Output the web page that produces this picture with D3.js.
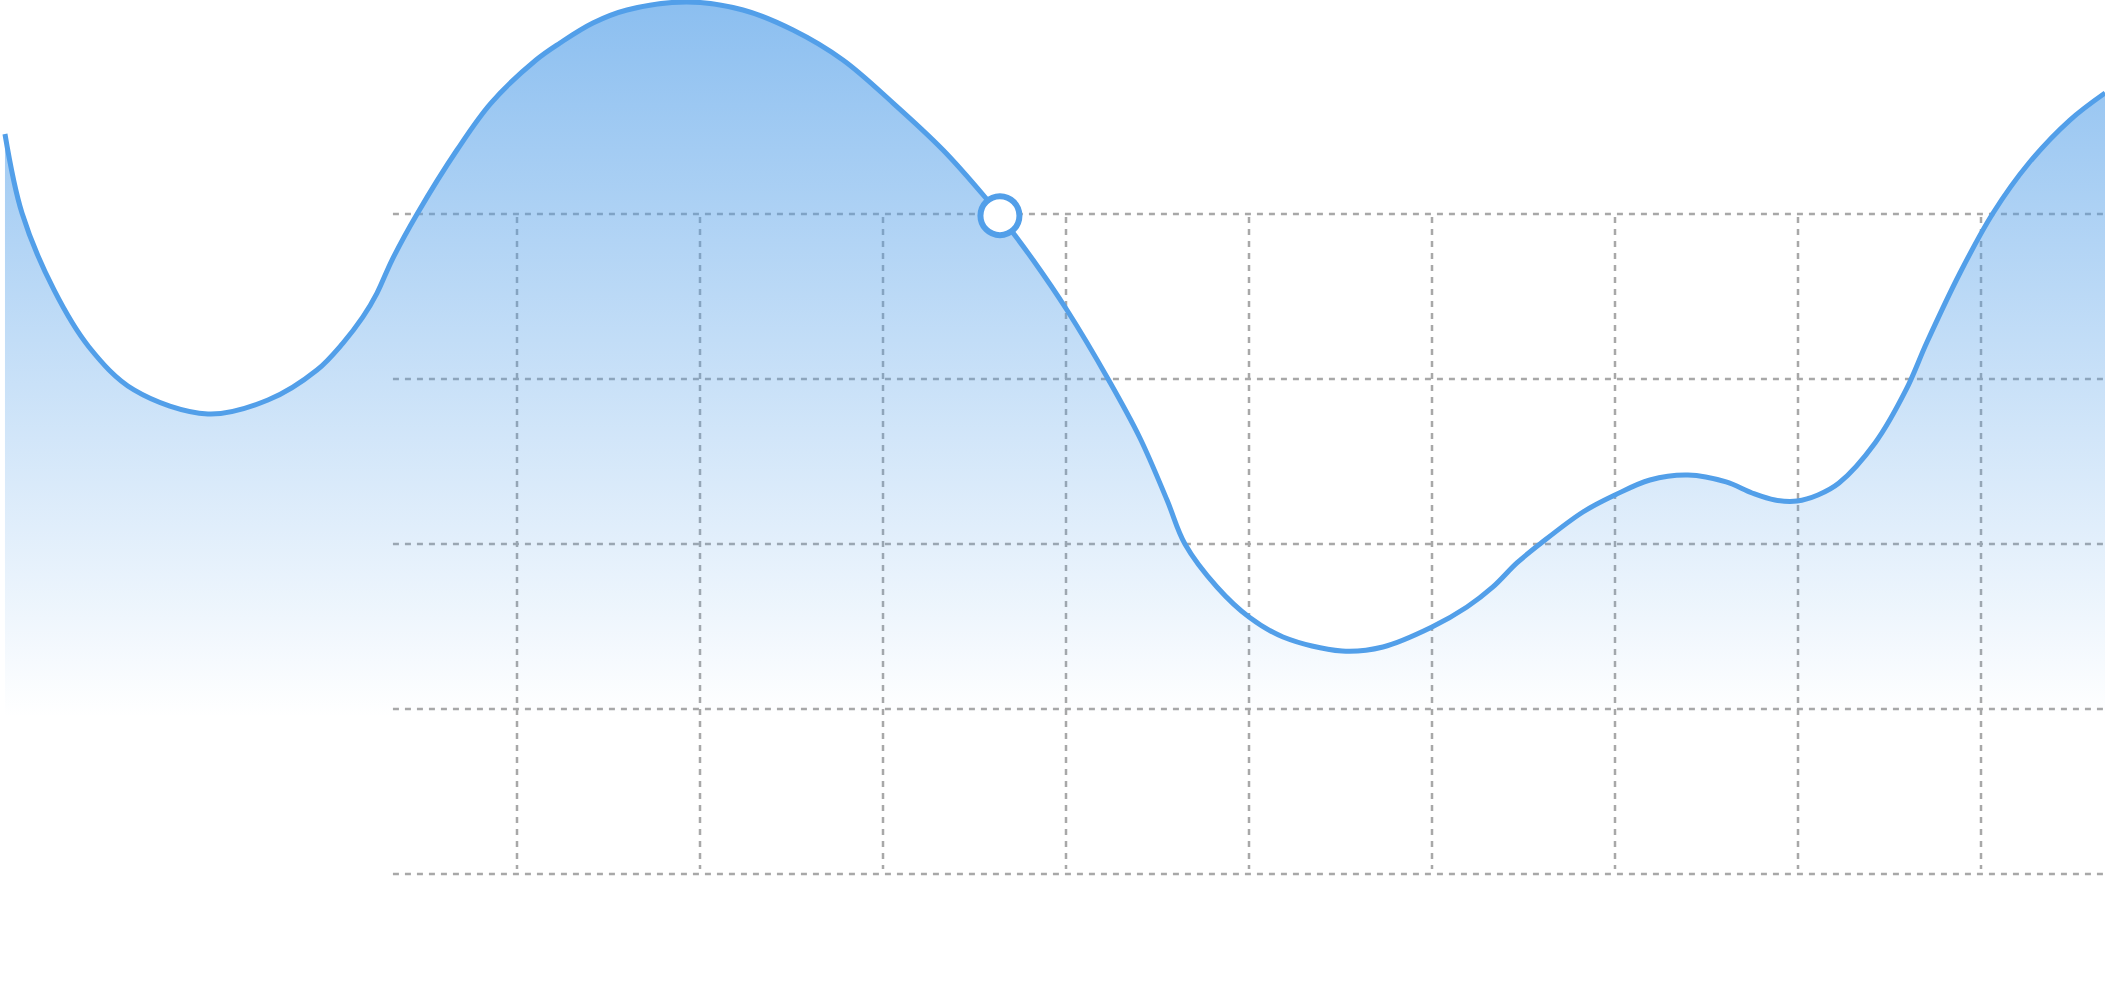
<!DOCTYPE html>
<html>
<head>
<meta charset="utf-8">
<script src="https://cdn.jsdelivr.net/npm/d3@7"></script>
<style>
  html, body { margin: 0; padding: 0; background: #ffffff; overflow: hidden; }
  svg { display: block; }
</style>
</head>
<body>
<svg id="chart" width="2105" height="987"></svg>
<script>
// ---- data (x in grid units, y in value units) ----
const xValues = [-1.798, -1.705, -1.530, -1.339, -1.093, -0.689, -0.361, -0.093, 0.049, 0.158,
  0.235, 0.317, 0.454, 0.672, 0.858, 1.104, 1.235, 1.415, 1.601, 1.929,
  2.235, 2.508, 2.781, 3.055, 3.328, 3.557, 3.639, 3.820, 4.005, 4.230,
  4.404, 4.552, 4.650, 4.825, 5.000, 5.186, 5.508, 5.732, 6.000, 6.191,
  6.333, 6.464, 6.590, 6.825, 7.000, 7.191, 7.399, 7.607, 7.749, 7.874,
  7.995, 8.109, 8.224, 8.421, 8.590, 8.705, 8.885, 9.066, 9.262, 9.486,
  9.678];
const yValues = [89.70, 80.12, 70.79, 63.88, 58.67, 55.76, 57.45, 61.09, 64.36, 67.52,
  70.42, 74.42, 80.00, 87.76, 93.45, 98.67, 100.73, 103.15, 104.73, 105.70,
  104.73, 102.30, 98.67, 93.45, 87.76, 82.06, 79.80, 74.42, 68.36, 60.00,
  52.85, 45.33, 40.00, 34.79, 31.15, 28.73, 27.03, 27.52, 29.94, 32.36,
  34.79, 37.70, 40.00, 43.88, 45.94, 47.76, 48.36, 47.52, 46.18, 45.33,
  45.21, 45.94, 47.39, 52.24, 58.67, 64.48, 72.85, 80.12, 86.18, 91.39,
  94.67];
const gridXTicks = [1, 2, 3, 4, 5, 6, 7, 8, 9];
const gridYTicks = [0, 20, 40, 60, 80];
const highlightX = [3.639];
const highlightY = [79.8];
const gridStartX = [0.322];

const data = xValues.map((x, i) => ({ x: x, y: yValues[i] }));

const W = 2105, H = 987;
const x = d3.scaleLinear().domain([0, 10]).range([334, 334 + 1830]);
const y = d3.scaleLinear().domain([0, 80]).range([874, 214]);

const svg = d3.select('#chart');

// gradient
const defs = svg.append('defs');
const grad = defs.append('linearGradient')
  .attr('id', 'areaGrad')
  .attr('gradientUnits', 'userSpaceOnUse')
  .attr('x1', 0).attr('x2', 0)
  .attr('y1', y(106)).attr('y2', y(19));
grad.append('stop').attr('offset', '0%').attr('stop-color', '#4f9de8').attr('stop-opacity', 0.66);
grad.append('stop').attr('offset', '100%').attr('stop-color', '#4f9de8').attr('stop-opacity', 0);

// grid
const grid = svg.append('g').attr('class', 'grid');
grid.selectAll('line.h').data(gridYTicks).enter().append('line')
  .attr('class', 'h')
  .attr('x1', x(gridStartX[0])).attr('x2', W)
  .attr('y1', d => y(d)).attr('y2', d => y(d))
  .attr('stroke', '#a8a8a8').attr('stroke-width', 2.5)
  .attr('stroke-dasharray', '6,6');
grid.selectAll('line.v').data(gridXTicks).enter().append('line')
  .attr('class', 'v')
  .attr('x1', d => x(d)).attr('x2', d => x(d))
  .attr('y1', y(80) + 3).attr('y2', y(0) - 5)
  .attr('stroke', '#a8a8a8').attr('stroke-width', 2.5)
  .attr('stroke-dasharray', '6,6');

// area
const area = d3.area()
  .x(d => x(d.x))
  .y0(y(0))
  .y1(d => y(d.y))
  .curve(d3.curveCatmullRom.alpha(0.5));
svg.append('path').datum(data)
  .attr('d', area)
  .attr('fill', 'url(#areaGrad)');

// line
const line = d3.line()
  .x(d => x(d.x))
  .y(d => y(d.y))
  .curve(d3.curveCatmullRom.alpha(0.5));
svg.append('path').datum(data)
  .attr('d', line)
  .attr('fill', 'none')
  .attr('stroke', '#529fe9')
  .attr('stroke-width', 5)
  .attr('stroke-linejoin', 'round');

// highlighted point
svg.selectAll('circle.hl').data(highlightX).enter().append('circle')
  .attr('class', 'hl')
  .attr('cx', (d) => x(d))
  .attr('cy', (d, i) => y(highlightY[i]))
  .attr('r', 19.5)
  .attr('fill', '#ffffff')
  .attr('stroke', '#529fe9')
  .attr('stroke-width', 6);
</script>
</body>
</html>
